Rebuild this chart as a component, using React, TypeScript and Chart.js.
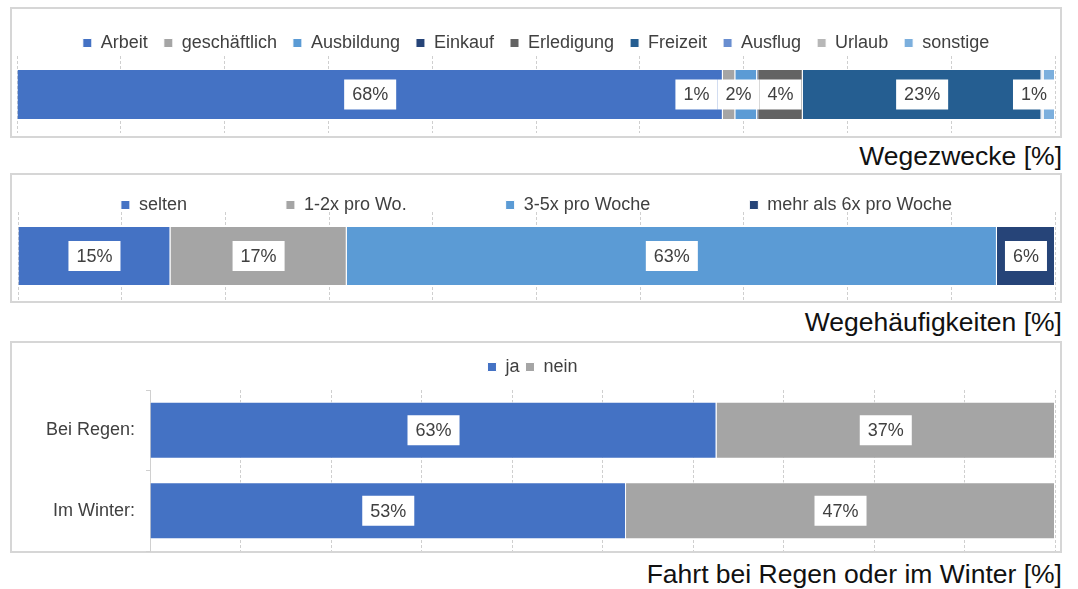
import React, { useEffect, useRef } from 'react';
import { Chart, registerables } from 'chart.js';

Chart.register(...registerables);

const FONT = '"Liberation Sans", Arial, Helvetica, sans-serif';
const TEXT = '#404040';
const GRID = '#CFCFCF';
const AXIS = '#D0D0D0';

// ---- Panel 1: Wegezwecke ----
const purposeLabels = ['Arbeit', 'geschäftlich', 'Ausbildung', 'Einkauf', 'Erledigung', 'Freizeit', 'Ausflug', 'Urlaub', 'sonstige'];
const purposeValues = [68.0, 1.2, 2.1, 0.1, 4.3, 23.0, 0.1, 0.1, 1.1];
const purposeColors = ['#4472C4', '#A5A5A5', '#5B9BD5', '#264478', '#636363', '#255E91', '#698ED0', '#B7B7B7', '#7CAFDD'];

// ---- Panel 2: Wegehäufigkeiten ----
const freqLabels = ['selten', '1-2x pro Wo.', '3-5x pro Woche', 'mehr als 6x pro Woche'];
const freqValues = [14.7, 17.0, 62.7, 5.6];
const freqColors = ['#4472C4', '#A5A5A5', '#5B9BD5', '#264478'];

// ---- Panel 3: Fahrt bei Regen oder im Winter ----
const weatherCategories = ['Bei Regen:', 'Im Winter:'];
const weatherSeries = ['ja', 'nein'];
const jaValues = [62.6, 52.6];
const neinValues = [37.4, 47.4];
const weatherColors = ['#4472C4', '#A5A5A5'];

// ---- Axis ----
const axisMin = 0;
const axisMax = 100;
const axisStep = 10;

const titles = ['Wegezwecke [%]', 'Wegehäufigkeiten [%]', 'Fahrt bei Regen oder im Winter [%]'];

// Legend placement: keeps Chart.js legend but lets the text line sit at a chosen height.
function legendPlacer(centerY: number, layoutHeight: number, itemHeight: number) {
  const EXTRA = 150;
  const patch = (chart: any) => {
    const lg = chart.legend;
    if (!lg || lg.__patched) return;
    lg.__patched = true;
    const origFit = lg.fit;
    lg.fit = function () {
      const mw = this.maxWidth;
      this.maxWidth = mw + 2 * EXTRA;
      origFit.call(this);
      this.maxWidth = mw;
      this.width = mw;
      this.height = layoutHeight;
    };
    const origDraw = lg.draw;
    lg.draw = function (...args: any[]) {
      const saved = { left: this.left, right: this.right, top: this.top, bottom: this.bottom };
      const pad = this.options.labels.padding;
      this.left -= EXTRA;
      this.right += EXTRA;
      this.top = centerY - pad - itemHeight / 2;
      this.bottom = centerY + itemHeight;
      origDraw.apply(this, args);
      Object.assign(this, saved);
    };
  };
  return {
    id: 'legendPlacer',
    beforeInit(chart: any) { patch(chart); },
    beforeUpdate(chart: any) { patch(chart); },
  };
}

// Data labels in white boxes, pushed apart when they overlap.
const boxLabels = {
  id: 'boxLabels',
  afterDatasetsDraw(chart: any) {
    const ctx = chart.ctx;
    const area = chart.chartArea;
    const n = chart.data.labels.length;
    const PADX = 8;
    const BOXH = 30;
    ctx.save();
    ctx.font = `18px ${FONT}`;
    for (let i = 0; i < n; i++) {
      const boxes: any[] = [];
      chart.data.datasets.forEach((ds: any, d: number) => {
        const v = ds.data[i];
        if (v == null || v < 0.5) return;
        const el = chart.getDatasetMeta(d).data[i];
        if (!el) return;
        const text = `${Math.round(v)}%`;
        const w = ctx.measureText(text).width + 2 * PADX;
        const cx = (el.x + el.base) / 2;
        let left = cx - w / 2;
        left = Math.max(area.left, Math.min(left, area.right - w));
        boxes.push({ left, w, text, y: el.y });
      });
      for (let k = boxes.length - 2; k >= 0; k--) {
        const over = boxes[k].left + boxes[k].w - boxes[k + 1].left;
        if (over > 0) boxes[k].left -= over;
      }
      boxes.forEach((b) => {
        ctx.fillStyle = '#FFFFFF';
        ctx.fillRect(b.left, b.y - BOXH / 2, b.w, BOXH);
      });
      boxes.forEach((b) => {
        ctx.fillStyle = TEXT;
        ctx.textAlign = 'center';
        ctx.textBaseline = 'middle';
        ctx.fillText(b.text, b.left + b.w / 2, b.y + 1);
      });
    }
    ctx.restore();
  },
};

type Spec = {
  categories: string[];
  datasets: any[];
  legendPadding: number;
  legendCenter: number;
  chartTop: number;
  padding: { left: number; right: number; bottom: number };
  yAxisWidth?: number;
};

function buildConfig(s: Spec): any {
  const showY = s.yAxisWidth != null;
  return {
    type: 'bar',
    data: { labels: s.categories, datasets: s.datasets },
    options: {
      indexAxis: 'y',
      responsive: false,
      maintainAspectRatio: false,
      animation: false,
      layout: { padding: { top: 0, left: s.padding.left, right: s.padding.right, bottom: s.padding.bottom } },
      font: { family: FONT },
      scales: {
        x: {
          stacked: true,
          min: axisMin,
          max: axisMax,
          ticks: { display: false, stepSize: axisStep },
          grid: { display: true, drawTicks: false, color: GRID, lineWidth: 1 },
          border: { display: false, dash: [3, 2] },
        },
        y: {
          stacked: true,
          display: showY,
          ticks: { color: TEXT, font: { family: FONT, size: 18 }, padding: 11 },
          grid: { display: true, drawOnChartArea: false, drawTicks: true, tickLength: 4, color: AXIS, offset: true },
          border: { display: true, color: AXIS, width: 1 },
          afterFit: (scale: any) => {
            if (showY) scale.width = s.yAxisWidth;
            scale.paddingTop = 0;
            scale.paddingBottom = 0;
          },
        },
      },
      plugins: {
        legend: {
          display: true,
          position: 'top',
          align: 'center',
          labels: {
            boxWidth: 9,
            boxHeight: 9,
            padding: s.legendPadding,
            color: TEXT,
            font: { family: FONT, size: 18 },
          },
        },
        tooltip: { enabled: false },
        title: { display: false },
      },
    },
    plugins: [legendPlacer(s.legendCenter, s.chartTop, 18), boxLabels],
  };
}

function makeDatasets(labels: string[], values: number[][], colors: string[], barPct: number) {
  return labels.map((label, i) => ({
    label,
    data: values[i],
    backgroundColor: colors[i],
    borderColor: '#FFFFFF',
    borderWidth: 1,
    barPercentage: barPct,
    categoryPercentage: 1,
  }));
}

function Panel(props: { left: number; top: number; width: number; height: number; build: () => any }) {
  const ref = useRef<HTMLCanvasElement>(null);
  useEffect(() => {
    if (!ref.current) return;
    const chart = new Chart(ref.current, props.build());
    return () => chart.destroy();
  }, []);
  const { left, top, width, height } = props;
  return (
    <>
      <div
        style={{
          position: 'absolute', left, top, width, height, boxSizing: 'border-box',
          border: '2px solid #D6D6D6', background: '#FFFFFF',
        }}
      />
      <canvas ref={ref} width={width} height={height} style={{ position: 'absolute', left, top, width, height }} />
    </>
  );
}

function Title(props: { text: string; top: number }) {
  return (
    <div
      style={{
        position: 'absolute', left: 0, top: props.top, width: 1062, textAlign: 'right',
        fontFamily: FONT, fontSize: 26.5, lineHeight: '27px', color: '#111111', whiteSpace: 'nowrap',
      }}
    >
      {props.text}
    </div>
  );
}

export default function App() {
  const build1 = () =>
    buildConfig({
      categories: [''],
      datasets: makeDatasets(purposeLabels, purposeValues.map((v) => [v]), purposeColors, 0.66),
      legendPadding: 16,
      legendCenter: 36,
      chartTop: 49,
      padding: { left: 7, right: 7, bottom: 5 },
    });
  const build2 = () =>
    buildConfig({
      categories: [''],
      datasets: makeDatasets(freqLabels, freqValues.map((v) => [v]), freqColors, 0.68),
      legendPadding: 99,
      legendCenter: 32,
      chartTop: 39,
      padding: { left: 8, right: 7, bottom: 3 },
    });
  const build3 = () =>
    buildConfig({
      categories: weatherCategories,
      datasets: makeDatasets(weatherSeries, [jaValues, neinValues], weatherColors, 0.71),
      legendPadding: 6,
      legendCenter: 26,
      chartTop: 49,
      padding: { left: 0, right: 7, bottom: 2 },
      yAxisWidth: 140,
    });

  return (
    <div style={{ position: 'absolute', left: 0, top: 0, width: 1078, height: 589, overflow: 'hidden', background: '#FFFFFF' }}>
      <Panel left={10} top={7} width={1052} height={131} build={build1} />
      <Title text={titles[0]} top={143} />
      <Panel left={10} top={173} width={1052} height={130} build={build2} />
      <Title text={titles[1]} top={309} />
      <Panel left={10} top={341} width={1052} height={212} build={build3} />
      <Title text={titles[2]} top={561} />
    </div>
  );
}
